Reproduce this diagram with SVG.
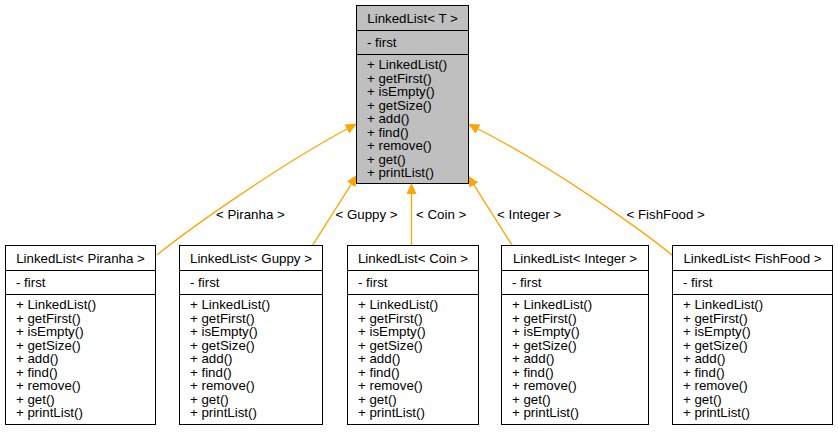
<svg xmlns="http://www.w3.org/2000/svg" width="838" height="432" viewBox="0 0 838 432">
<defs>
<style>
text{font-family:"Liberation Sans",Arial,Helvetica,sans-serif;font-size:13.3px;fill:#000}
.t{text-anchor:middle}
.box{fill:#fff;stroke:#000;stroke-width:1}
.top{fill:#bfbfbf;stroke:#000;stroke-width:1}
.sep{stroke:#000;stroke-width:1}
.e{fill:none;stroke:#ffa500;stroke-width:1.3}
</style>
<marker id="ah" viewBox="0 -5 11 10" refX="0" refY="0" markerWidth="11" markerHeight="10" markerUnits="userSpaceOnUse" orient="auto">
<path d="M0,-4.5 L10,0 L0,4.5 Z" fill="#ffa500" stroke="#ffa500" stroke-width="1"/>
</marker>
</defs>
<rect width="838" height="432" fill="#fff"/>
<g id="connectors">
<path class="e" d="M157,255 C190,228 280,165 347,129" marker-end="url(#ah)"/>
<path class="e" d="M311.7,246.7 L351.3,184.1" marker-end="url(#ah)"/>
<path class="e" d="M411.5,246 L411.5,194" marker-end="url(#ah)"/>
<path class="e" d="M513,246.7 L473.85,184.95" marker-end="url(#ah)"/>
<path class="e" d="M672,255 C639,228 549,165 478,129" marker-end="url(#ah)"/>
<text x="216" y="219">&lt; Piranha &gt;</text>
<text x="335.5" y="219">&lt; Guppy &gt;</text>
<text x="416" y="219">&lt; Coin &gt;</text>
<text x="497" y="219">&lt; Integer &gt;</text>
<text x="626.5" y="219">&lt; FishFood &gt;</text>
</g>
<g id="LinkedList_T">
<rect class="top" x="356.5" y="5.5" width="112" height="178"/>
<line class="sep" x1="356.5" y1="30.5" x2="468.5" y2="30.5"/>
<line class="sep" x1="356.5" y1="54.5" x2="468.5" y2="54.5"/>
<text class="t" x="412.5" y="23">LinkedList&lt; T &gt;</text>
<text x="367" y="46.5">- first</text>
<text x="367" y="69">+ LinkedList()</text>
<text x="367" y="82.5">+ getFirst()</text>
<text x="367" y="96">+ isEmpty()</text>
<text x="367" y="109.5">+ getSize()</text>
<text x="367" y="123">+ add()</text>
<text x="367" y="136.5">+ find()</text>
<text x="367" y="150">+ remove()</text>
<text x="367" y="163.5">+ get()</text>
<text x="367" y="177">+ printList()</text>
</g>
<g id="LinkedList_Piranha">
<rect class="box" x="5.5" y="245.5" width="150" height="179"/>
<line class="sep" x1="5.5" y1="270.5" x2="155.5" y2="270.5"/>
<line class="sep" x1="5.5" y1="294.5" x2="155.5" y2="294.5"/>
<text class="t" x="80.5" y="263">LinkedList&lt; Piranha &gt;</text>
<text x="16" y="286.5">- first</text>
<text x="16" y="309">+ LinkedList()</text>
<text x="16" y="322.5">+ getFirst()</text>
<text x="16" y="336">+ isEmpty()</text>
<text x="16" y="349.5">+ getSize()</text>
<text x="16" y="363">+ add()</text>
<text x="16" y="376.5">+ find()</text>
<text x="16" y="390">+ remove()</text>
<text x="16" y="403.5">+ get()</text>
<text x="16" y="417">+ printList()</text>
</g>
<g id="LinkedList_Guppy">
<rect class="box" x="179.5" y="245.5" width="143" height="179"/>
<line class="sep" x1="179.5" y1="270.5" x2="322.5" y2="270.5"/>
<line class="sep" x1="179.5" y1="294.5" x2="322.5" y2="294.5"/>
<text class="t" x="251" y="263">LinkedList&lt; Guppy &gt;</text>
<text x="190" y="286.5">- first</text>
<text x="190" y="309">+ LinkedList()</text>
<text x="190" y="322.5">+ getFirst()</text>
<text x="190" y="336">+ isEmpty()</text>
<text x="190" y="349.5">+ getSize()</text>
<text x="190" y="363">+ add()</text>
<text x="190" y="376.5">+ find()</text>
<text x="190" y="390">+ remove()</text>
<text x="190" y="403.5">+ get()</text>
<text x="190" y="417">+ printList()</text>
</g>
<g id="LinkedList_Coin">
<rect class="box" x="347.5" y="245.5" width="131" height="179"/>
<line class="sep" x1="347.5" y1="270.5" x2="478.5" y2="270.5"/>
<line class="sep" x1="347.5" y1="294.5" x2="478.5" y2="294.5"/>
<text class="t" x="413" y="263">LinkedList&lt; Coin &gt;</text>
<text x="358" y="286.5">- first</text>
<text x="358" y="309">+ LinkedList()</text>
<text x="358" y="322.5">+ getFirst()</text>
<text x="358" y="336">+ isEmpty()</text>
<text x="358" y="349.5">+ getSize()</text>
<text x="358" y="363">+ add()</text>
<text x="358" y="376.5">+ find()</text>
<text x="358" y="390">+ remove()</text>
<text x="358" y="403.5">+ get()</text>
<text x="358" y="417">+ printList()</text>
</g>
<g id="LinkedList_Integer">
<rect class="box" x="501.5" y="245.5" width="147" height="179"/>
<line class="sep" x1="501.5" y1="270.5" x2="648.5" y2="270.5"/>
<line class="sep" x1="501.5" y1="294.5" x2="648.5" y2="294.5"/>
<text class="t" x="575" y="263">LinkedList&lt; Integer &gt;</text>
<text x="512" y="286.5">- first</text>
<text x="512" y="309">+ LinkedList()</text>
<text x="512" y="322.5">+ getFirst()</text>
<text x="512" y="336">+ isEmpty()</text>
<text x="512" y="349.5">+ getSize()</text>
<text x="512" y="363">+ add()</text>
<text x="512" y="376.5">+ find()</text>
<text x="512" y="390">+ remove()</text>
<text x="512" y="403.5">+ get()</text>
<text x="512" y="417">+ printList()</text>
</g>
<g id="LinkedList_FishFood">
<rect class="box" x="672.5" y="245.5" width="160" height="179"/>
<line class="sep" x1="672.5" y1="270.5" x2="832.5" y2="270.5"/>
<line class="sep" x1="672.5" y1="294.5" x2="832.5" y2="294.5"/>
<text class="t" x="752.5" y="263">LinkedList&lt; FishFood &gt;</text>
<text x="683" y="286.5">- first</text>
<text x="683" y="309">+ LinkedList()</text>
<text x="683" y="322.5">+ getFirst()</text>
<text x="683" y="336">+ isEmpty()</text>
<text x="683" y="349.5">+ getSize()</text>
<text x="683" y="363">+ add()</text>
<text x="683" y="376.5">+ find()</text>
<text x="683" y="390">+ remove()</text>
<text x="683" y="403.5">+ get()</text>
<text x="683" y="417">+ printList()</text>
</g>
</svg>
